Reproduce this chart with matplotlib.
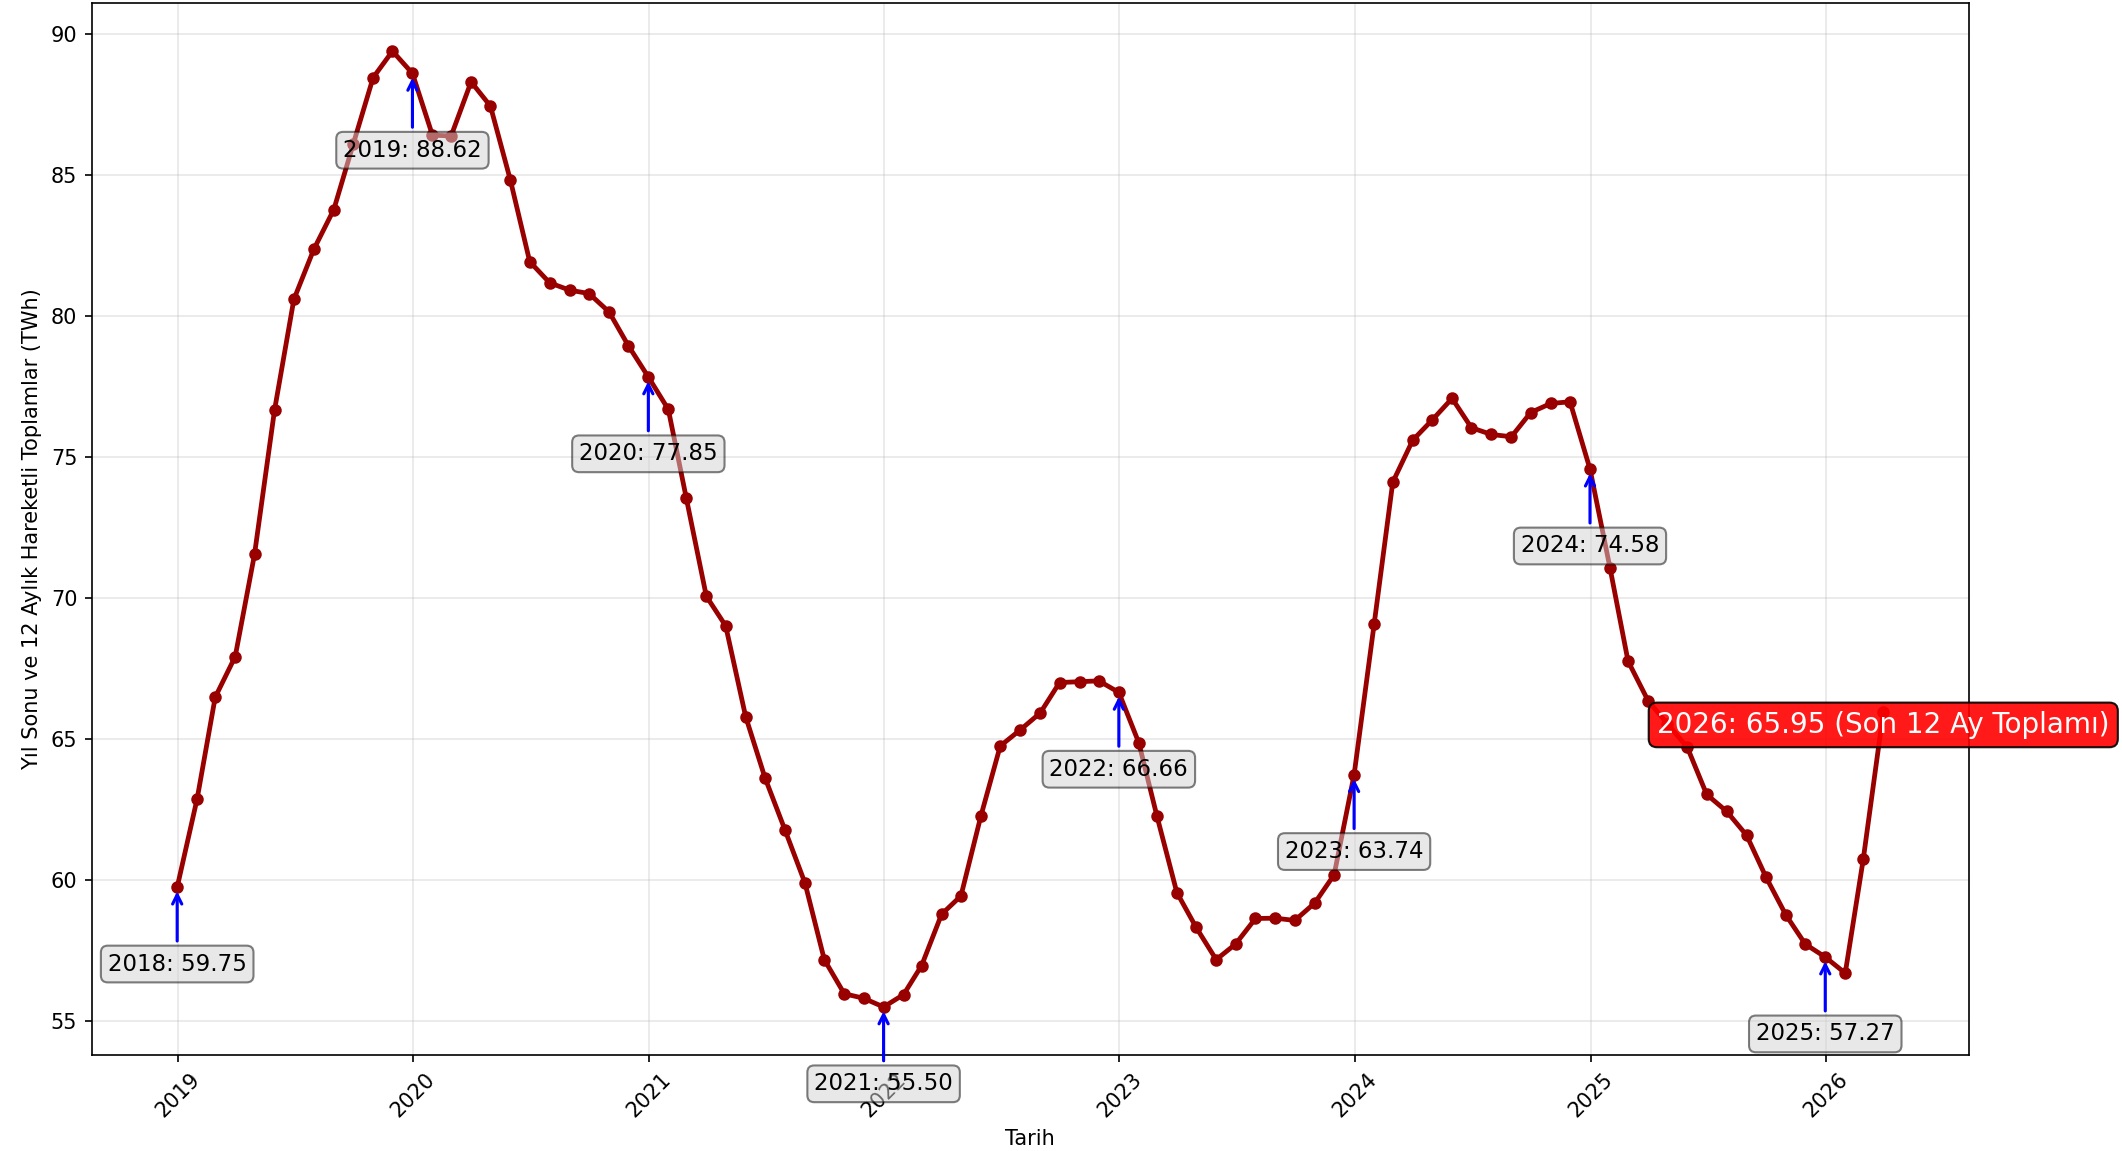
import numpy as np
import pandas as pd
import matplotlib
matplotlib.use("Agg")
import matplotlib.pyplot as plt
import matplotlib.dates as mdates

# aylik 12 aylik hareketli toplamlar (TWh), 2018-12 .. 2026-03
degerler = [
    59.75,
    62.89, 66.49, 67.93, 71.56, 76.67, 80.60, 82.38, 83.79, 86.10, 88.47, 89.41, 88.62,
    86.43, 86.40, 88.32, 87.46, 84.83, 81.94, 81.19, 80.93, 80.81, 80.16, 78.96, 77.85,
    76.70, 73.54, 70.07, 69.02, 65.80, 63.63, 61.78, 59.90, 57.18, 55.97, 55.81, 55.50,
    55.94, 56.97, 58.79, 59.44, 62.28, 64.76, 65.33, 65.93, 67.01, 67.04, 67.07, 66.66,
    64.87, 62.28, 59.56, 58.32, 57.18, 57.73, 58.64, 58.65, 58.57, 59.19, 60.19, 63.74,
    69.07, 74.12, 75.61, 76.32, 77.09, 76.05, 75.81, 75.73, 76.59, 76.91, 76.97, 74.58,
    71.08, 67.77, 66.37, 65.55, 64.71, 63.04, 62.44, 61.59, 60.11, 58.76, 57.73, 57.27,
    56.70, 60.75, 65.95,
]
tarihler = pd.date_range("2018-12-31", periods=len(degerler), freq="ME")

yil_sonu_yillar = [2018, 2019, 2020, 2021, 2022, 2023, 2024, 2025]
son_etiket = "Son 12 Ay Toplamı"

fig = plt.figure(figsize=(2122 / 150, 1151 / 150), dpi=150)
ax = fig.add_axes([0.0433, 0.0836, 0.8844, 0.9135])

ax.plot(tarihler, degerler, color="#990000", linewidth=2.3, marker="o", markersize=5)

# yil sonu etiketleri
for yil in yil_sonu_yillar:
    i = (yil - 2018) * 12
    ax.annotate(f"{yil}: {degerler[i]:.2f}",
                xy=(tarihler[i], degerler[i]), xytext=(0, -40),
                textcoords="offset points", ha="center", fontsize=11,
                bbox=dict(boxstyle="round,pad=0.3", facecolor="lightgray", alpha=0.5),
                arrowprops=dict(arrowstyle="->", color="blue", lw=1.5))

# son nokta
ax.annotate(f"{tarihler[-1].year}: {degerler[-1]:.2f} ({son_etiket})",
            xy=(tarihler[-1], degerler[-1]), xytext=(0, -6),
            textcoords="offset points", ha="center", va="center",
            fontsize=13.3, color="white",
            bbox=dict(boxstyle="round,pad=0.3", facecolor="red", alpha=0.9))

ax.xaxis.set_major_locator(mdates.YearLocator())
ax.xaxis.set_major_formatter(mdates.DateFormatter("%Y"))
plt.setp(ax.get_xticklabels(), rotation=45)
ax.grid(True, alpha=0.3)
ax.set_xlabel("Tarih")
ax.set_ylabel("Yıl Sonu ve 12 Aylık Hareketli Toplamlar (TWh)")

fig.savefig("out.png", dpi=150)
